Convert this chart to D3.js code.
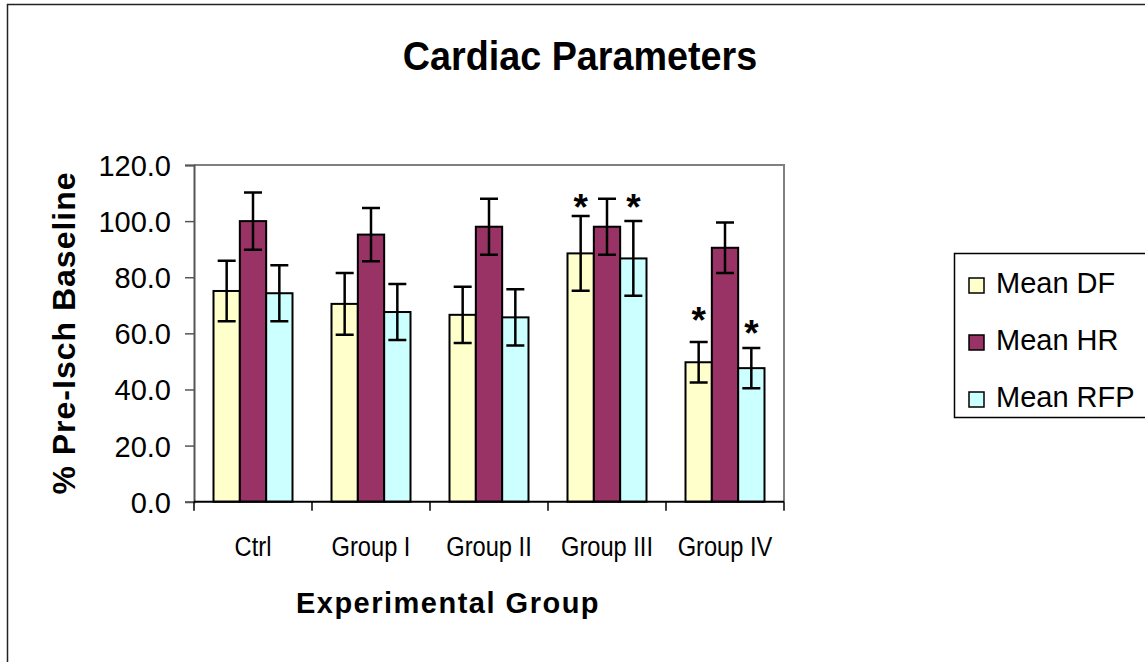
<!DOCTYPE html>
<html>
<head>
<meta charset="utf-8">
<script src="https://cdn.jsdelivr.net/npm/d3@7"></script>
<style>
  body { margin: 0; background: #fff; }
  text { font-family: "Liberation Sans", Arial, sans-serif; fill: #000; }
</style>
</head>
<body>
<svg width="1145" height="662"></svg>
<script>
const svg = d3.select('svg')

// data
const groups = ['Ctrl', 'Group I', 'Group II', 'Group III', 'Group IV'];
const series = ['Mean DF', 'Mean HR', 'Mean RFP'];
const colors = ['#FFFFCC', '#993366', '#CCFFFF'];
const meanDF  = [75.1, 70.5, 66.6, 88.5, 49.7];
const meanHR  = [100.0, 95.2, 98.0, 98.0, 90.5];
const meanRFP = [74.3, 67.6, 65.7, 86.7, 47.6];
const errDF   = [10.8, 11.0, 10.0, 13.3, 7.2];
const errHR   = [10.2, 9.5, 10.0, 10.0, 9.0];
const errRFP  = [10.0, 10.0, 10.0, 13.3, 7.2];
const yTicks  = [0, 20, 40, 60, 80, 100, 120];
// significance stars: [group, series, level]
const stars = [['Group III', 'Mean DF', 107.5], ['Group III', 'Mean RFP', 107.5],
               ['Group IV', 'Mean DF', 67.2], ['Group IV', 'Mean RFP', 62.7]];

const values = [meanDF, meanHR, meanRFP];
const errors = [errDF, errHR, errRFP];

const plotLeft = 194, plotRight = 784, plotTop = 165, plotBottom = 501.7;

// outer frame
svg.append('rect')
  .attr('x', 7.5).attr('y', 4.5)
  .attr('width', 1200).attr('height', 700)
  .attr('fill', 'none').attr('stroke', '#222').attr('stroke-width', 1.5);

svg.append('text')
  .attr('transform', 'translate(580,70) scale(1.02,1.08)')
  .attr('text-anchor', 'middle')
  .style('font-size', '37px').style('font-weight', 'bold')
  .text('Cardiac Parameters');

const x = d3.scaleBand().domain(groups).range([plotLeft, plotRight]);
const xs = d3.scaleBand().domain(series).range([19.5, x.bandwidth() - 19.5]);
const y = d3.scaleLinear().domain([0, 120]).range([plotBottom, plotTop]);

// plot frame top + right
svg.append('path')
  .attr('d', `M${plotLeft},${plotTop}H${plotRight}V${plotBottom}`)
  .attr('fill', 'none').attr('stroke', '#808080').attr('stroke-width', 2);

// y axis
const yAxis = svg.append('g')
  .attr('transform', `translate(${plotLeft},0)`)
  .call(d3.axisLeft(y).tickValues(yTicks).tickSize(9).tickPadding(14)
    .tickFormat(d3.format('.1f')));
yAxis.select('.domain').attr('stroke', '#555').attr('stroke-width', 2);
yAxis.selectAll('.tick line').attr('stroke', '#555').attr('stroke-width', 1.5);
yAxis.selectAll('text')
  .style('font-size', '29px')
  .style('font-family', '"Liberation Sans", Arial, sans-serif')
  .attr('dy', '0.36em');

// bars
const gGroups = svg.append('g').selectAll('g')
  .data(groups).join('g')
  .attr('transform', d => `translate(${x(d)},0)`);

series.forEach((s, si) => {
  gGroups.append('rect')
    .attr('x', xs(s))
    .attr('y', (d, gi) => y(values[si][gi]))
    .attr('width', xs.bandwidth())
    .attr('height', (d, gi) => plotBottom - y(values[si][gi]))
    .attr('fill', colors[si])
    .attr('stroke', '#000').attr('stroke-width', 2);
});

// error bars
series.forEach((s, si) => {
  const cx = xs(s) + xs.bandwidth() / 2;
  gGroups.append('path')
    .attr('d', (d, gi) => {
      const hi = y(values[si][gi] + errors[si][gi]);
      const lo = y(values[si][gi] - errors[si][gi]);
      return `M${cx},${hi}V${lo}M${cx - 9},${hi}H${cx + 9}M${cx - 9},${lo}H${cx + 9}`;
    })
    .attr('fill', 'none').attr('stroke', '#000').attr('stroke-width', 2.5);
});

// x axis
const xAxis = svg.append('g')
  .attr('transform', `translate(0,${plotBottom})`);
xAxis.append('path')
  .attr('d', `M${plotLeft},0H${plotRight}`)
  .attr('stroke', '#000').attr('stroke-width', 2);
xAxis.selectAll('line')
  .data(groups.concat(['end'])).join('line')
  .attr('x1', (d, i) => i < groups.length ? x(d) : plotRight)
  .attr('x2', (d, i) => i < groups.length ? x(d) : plotRight)
  .attr('y1', 0).attr('y2', 9)
  .attr('stroke', '#000').attr('stroke-width', 1.5);
xAxis.selectAll('text')
  .data(groups).join('text')
  .attr('transform', d => `translate(${x(d) + x.bandwidth() / 2},54) scale(0.845,1)`)
  .attr('text-anchor', 'middle')
  .style('font-size', '28px')
  .text(d => d);

// stars
svg.append('g').selectAll('text')
  .data(stars).join('text')
  .attr('x', d => x(d[0]) + xs(d[1]) + xs.bandwidth() / 2)
  .attr('y', d => y(d[2]) + 20)
  .attr('text-anchor', 'middle')
  .style('font-size', '37px').style('font-weight', 'bold')
  .text('*');

// axis titles
svg.append('text')
  .attr('transform', 'translate(75,333) rotate(-90)')
  .attr('text-anchor', 'middle')
  .style('font-size', '32px').style('font-weight', 'bold')
  .style('letter-spacing', '1px')
  .text('% Pre-Isch Baseline');

svg.append('text')
  .attr('x', 448).attr('y', 613)
  .attr('text-anchor', 'middle')
  .style('font-size', '29px').style('font-weight', 'bold')
  .style('letter-spacing', '1.5px')
  .text('Experimental Group');

// legend
const legend = svg.append('g');
legend.append('rect')
  .attr('x', 954.5).attr('y', 253.5)
  .attr('width', 300).attr('height', 164)
  .attr('fill', '#fff').attr('stroke', '#000').attr('stroke-width', 1.5);
const legendY = d3.scalePoint().domain(series).range([283, 397]);
const items = legend.selectAll('g.item')
  .data(series).join('g').attr('class', 'item')
  .attr('transform', d => `translate(969,${legendY(d)})`);
items.append('rect')
  .attr('x', 0).attr('y', -5).attr('width', 15).attr('height', 15)
  .attr('fill', (d, i) => colors[i])
  .attr('stroke', '#000').attr('stroke-width', 1.5);
items.append('text')
  .attr('x', 27).attr('y', 10)
  .style('font-size', '29px')
  .text(d => d);
</script>
</body>
</html>
